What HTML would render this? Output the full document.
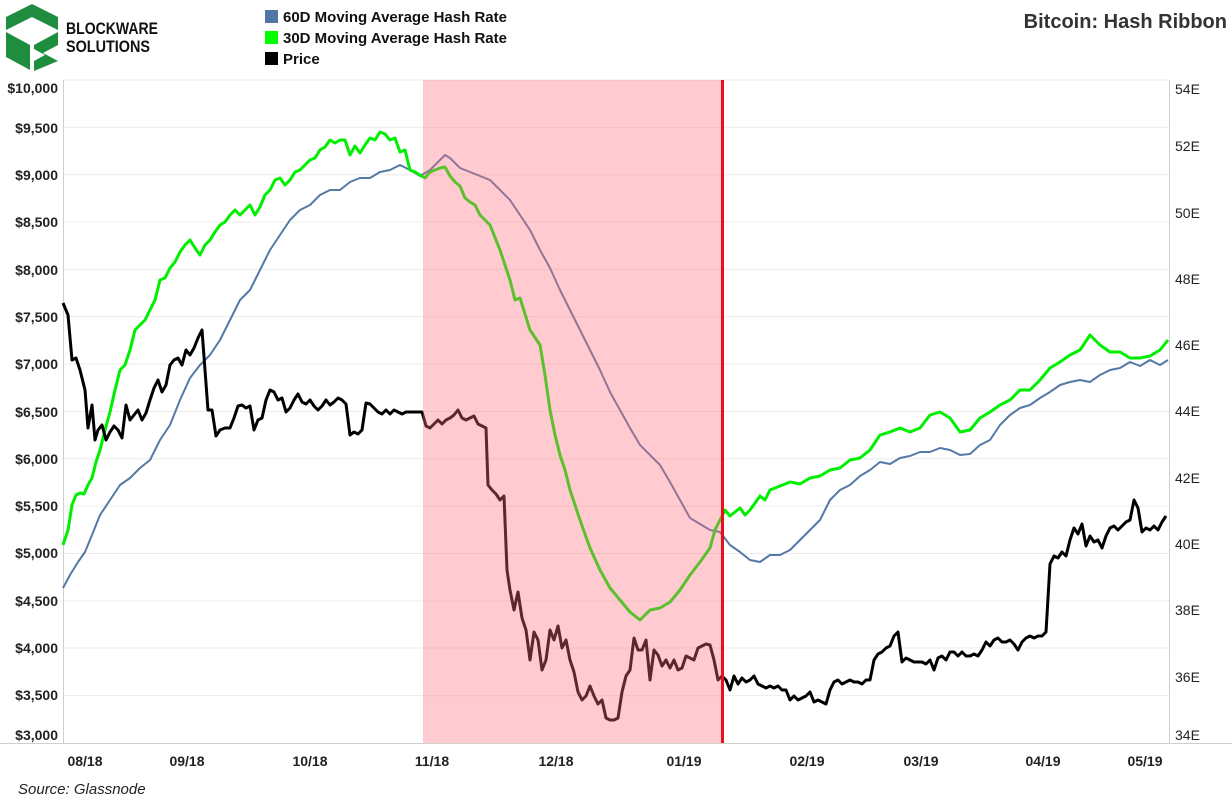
<!DOCTYPE html>
<html><head><meta charset="utf-8"><style>
body{margin:0;background:#fff;font-family:"Liberation Sans",sans-serif;}
</style></head><body>
<svg width="1232" height="803" viewBox="0 0 1232 803" xmlns="http://www.w3.org/2000/svg" style="display:block">
<!-- logo -->
<g fill="#1e8e3e">
<polygon points="32,4 58,17 58,30 32,17 6,30 6,17"/>
<polygon points="6,32 30,45 30,70 6,57"/>
<polygon points="34,45 58,32 58,45 43,53 58,61 34,71 34,61 45,55 34,49"/>
</g>
<text x="66" y="34" font-size="17" font-weight="bold" fill="#111" textLength="92" lengthAdjust="spacingAndGlyphs">BLOCKWARE</text>
<text x="66" y="52" font-size="17" font-weight="bold" fill="#111" textLength="84" lengthAdjust="spacingAndGlyphs">SOLUTIONS</text>
<!-- legend -->
<rect x="265" y="10" width="13" height="13" fill="#4f76a4"/>
<text x="283" y="22" font-size="15" font-weight="bold" fill="#111">60D Moving Average Hash Rate</text>
<rect x="265" y="31" width="13" height="13" fill="#00ff00"/>
<text x="283" y="43" font-size="15" font-weight="bold" fill="#111">30D Moving Average Hash Rate</text>
<rect x="265" y="52" width="13" height="13" fill="#000"/>
<text x="283" y="64" font-size="15" font-weight="bold" fill="#111">Price</text>
<text x="1227" y="28" font-size="20" font-weight="bold" fill="#333" text-anchor="end">Bitcoin: Hash Ribbon</text>
<!-- grid -->
<g stroke="#ececec" stroke-width="1">
<line x1="63" x2="1169" y1="80" y2="80"/><line x1="63" x2="1169" y1="127.4" y2="127.4"/><line x1="63" x2="1169" y1="174.7" y2="174.7"/><line x1="63" x2="1169" y1="222" y2="222"/><line x1="63" x2="1169" y1="269.4" y2="269.4"/><line x1="63" x2="1169" y1="316.8" y2="316.8"/><line x1="63" x2="1169" y1="364" y2="364"/><line x1="63" x2="1169" y1="411.5" y2="411.5"/><line x1="63" x2="1169" y1="458.8" y2="458.8"/><line x1="63" x2="1169" y1="506" y2="506"/><line x1="63" x2="1169" y1="553.5" y2="553.5"/><line x1="63" x2="1169" y1="601" y2="601"/><line x1="63" x2="1169" y1="648" y2="648"/><line x1="63" x2="1169" y1="695.6" y2="695.6"/>
</g>
<g stroke="#cfcfcf" stroke-width="1" fill="none">
<line x1="63.5" y1="80" x2="63.5" y2="743"/><line x1="1169.5" y1="80" x2="1169.5" y2="743"/><line x1="0" y1="743.5" x2="1232" y2="743.5"/>
</g>
<!-- y labels -->
<g font-size="14" font-weight="bold" fill="#222" text-anchor="end">
<text x="58" y="93">$10,000</text><text x="58" y="133">$9,500</text><text x="58" y="180">$9,000</text><text x="58" y="227">$8,500</text><text x="58" y="275">$8,000</text><text x="58" y="322">$7,500</text><text x="58" y="369">$7,000</text><text x="58" y="417">$6,500</text><text x="58" y="464">$6,000</text><text x="58" y="511">$5,500</text><text x="58" y="558">$5,000</text><text x="58" y="606">$4,500</text><text x="58" y="653">$4,000</text><text x="58" y="700">$3,500</text><text x="58" y="740">$3,000</text>
</g>
<g font-size="14" fill="#222">
<text x="1175" y="94">54E</text><text x="1175" y="151">52E</text><text x="1175" y="218">50E</text><text x="1175" y="284">48E</text><text x="1175" y="350">46E</text><text x="1175" y="416">44E</text><text x="1175" y="483">42E</text><text x="1175" y="549">40E</text><text x="1175" y="615">38E</text><text x="1175" y="682">36E</text><text x="1175" y="740">34E</text>
</g>
<g font-size="14" font-weight="bold" fill="#222" text-anchor="middle">
<text x="85" y="766">08/18</text><text x="187" y="766">09/18</text><text x="310" y="766">10/18</text><text x="432" y="766">11/18</text><text x="556" y="766">12/18</text><text x="684" y="766">01/19</text><text x="807" y="766">02/19</text><text x="921" y="766">03/19</text><text x="1043" y="766">04/19</text><text x="1145" y="766">05/19</text>
</g>
<text x="18" y="794" font-size="15" font-style="italic" fill="#222">Source: Glassnode</text>
<!-- series -->
<g fill="none" stroke-width="2.5" stroke-linejoin="round">
<polyline stroke="#5579a6" stroke-width="2" points="63,588 70,575 78,562 85,552 92,535 100,515 110,500 120,485 130,478 140,468 150,460 160,440 170,425 180,400 190,378 200,365 210,355 220,340 230,320 240,300 250,290 260,270 270,250 280,235 290,220 300,210 310,205 320,195 330,190 340,190 350,182 360,178 370,178 380,172 390,170 400,165 410,170 420,176 430,170 440,160 445,155 450,158 460,168 470,172 480,176 490,180 500,190 510,200 520,215 530,230 540,250 550,268 560,290 570,310 580,330 590,350 600,370 610,392 620,410 630,428 640,445 650,455 660,465 670,482 680,500 690,518 700,524 710,530 720,532 730,545 740,552 750,560 760,562 770,555 780,555 790,550 800,540 810,530 820,520 830,500 840,490 850,485 860,476 870,470 880,462 890,464 900,458 910,456 920,452 930,452 940,448 950,450 960,455 970,454 980,445 990,440 1000,425 1010,415 1020,408 1030,405 1040,398 1050,392 1060,385 1070,382 1080,380 1090,382 1100,375 1110,370 1120,368 1130,362 1140,366 1150,360 1160,365 1168,360"/>
<polyline stroke="#00ee00" stroke-width="3" points="63,545 68,530 72,505 76,495 80,493 84,494 88,485 92,478 96,462 100,450 105,430 110,412 115,390 120,370 125,365 130,350 135,330 140,325 145,320 150,310 155,300 160,280 165,278 170,268 175,262 180,252 185,245 190,240 195,248 200,255 205,245 210,240 215,232 220,225 225,222 230,215 235,210 240,215 245,210 250,205 255,215 260,207 265,195 270,190 275,180 280,178 285,185 290,180 295,172 300,170 305,165 310,160 315,158 320,150 325,147 330,140 335,143 340,140 345,140 350,155 355,146 360,153 365,145 370,138 375,140 380,132 385,134 390,140 395,138 400,152 405,150 410,170 415,172 420,175 425,178 430,172 440,168 445,167 450,176 455,182 460,186 465,198 470,202 475,205 480,215 490,225 500,250 510,280 515,300 520,298 530,330 540,345 545,375 550,410 555,435 560,455 565,470 570,490 580,520 590,548 600,570 610,588 620,600 630,612 640,620 650,610 660,608 670,602 680,590 690,575 700,562 710,548 715,530 720,520 725,510 730,516 740,508 745,515 750,510 760,496 765,500 770,490 780,486 790,482 800,484 810,478 820,476 830,470 840,468 850,460 860,458 870,450 880,435 890,432 900,428 910,432 920,428 930,415 940,412 950,418 960,432 970,430 980,418 990,412 1000,405 1010,400 1020,390 1030,390 1040,380 1050,368 1060,362 1070,355 1080,350 1090,335 1100,345 1110,352 1120,352 1130,358 1140,358 1150,356 1160,350 1168,340"/>
<polyline stroke="#000" stroke-width="3" points="63,303 68,315 72,360 76,358 80,370 85,390 88,428 92,405 95,440 98,430 102,425 106,440 110,432 114,426 118,430 122,438 126,405 130,420 134,415 138,410 142,420 146,413 150,400 154,388 158,380 162,392 166,385 170,365 174,360 178,358 182,365 186,350 190,355 194,348 198,338 202,330 205,370 208,410 212,410 216,436 220,430 225,428 230,428 234,418 238,406 242,405 246,408 250,406 254,430 258,420 262,418 266,400 270,390 274,392 278,400 282,398 286,412 290,408 294,400 298,394 302,402 306,404 310,400 314,406 318,410 322,406 326,400 330,405 334,402 338,398 342,400 346,404 350,435 354,432 358,434 362,430 366,403 370,404 374,408 378,412 382,414 386,410 390,414 394,410 398,412 402,414 406,412 410,412 414,412 418,412 422,412 426,426 430,428 434,424 438,420 442,424 446,420 450,418 454,415 458,410 462,418 466,420 470,418 474,416 478,424 482,426 486,428 488,485 492,490 496,494 500,500 504,496 507,570 510,590 514,610 518,592 522,618 526,630 530,660 534,632 538,640 542,670 546,660 550,630 554,640 558,626 562,648 566,640 570,660 574,672 578,692 582,700 586,696 590,686 594,696 598,704 602,700 606,718 610,720 614,720 618,718 622,692 626,676 630,670 634,638 638,650 642,650 646,640 650,680 654,650 658,655 662,666 666,660 670,668 674,660 678,670 682,668 686,656 690,658 694,660 698,648 702,646 706,644 710,645 714,660 718,680 722,676 726,680 730,690 734,676 738,684 742,678 746,682 750,680 754,676 758,684 762,686 766,688 770,686 774,688 778,686 782,690 786,690 790,700 794,696 798,700 802,698 806,696 810,692 814,702 818,700 822,702 826,704 830,690 834,682 838,680 842,684 846,682 850,680 854,682 858,682 862,684 866,680 870,680 874,660 878,654 882,652 886,648 890,646 894,636 898,632 902,662 906,658 910,660 914,662 918,662 922,662 926,664 930,660 934,670 938,658 942,656 946,660 950,652 954,652 958,656 962,652 966,656 970,656 974,654 978,656 982,650 986,642 990,646 994,640 998,638 1002,642 1006,642 1010,640 1014,644 1018,650 1022,642 1026,638 1030,636 1034,638 1038,636 1042,636 1046,632 1050,564 1054,556 1058,558 1062,552 1066,556 1070,540 1074,528 1078,534 1082,524 1086,546 1090,536 1094,542 1098,540 1102,548 1106,536 1110,528 1114,526 1118,530 1122,526 1126,522 1130,520 1134,500 1138,508 1142,532 1146,528 1150,530 1154,526 1158,530 1162,522 1166,516"/>
</g>
<rect x="423" y="80" width="299" height="663" fill="rgb(255,110,125)" fill-opacity="0.36"/>
<line x1="722.5" y1="80" x2="722.5" y2="743" stroke="#e8101e" stroke-width="3"/>
</svg>
</body></html>
